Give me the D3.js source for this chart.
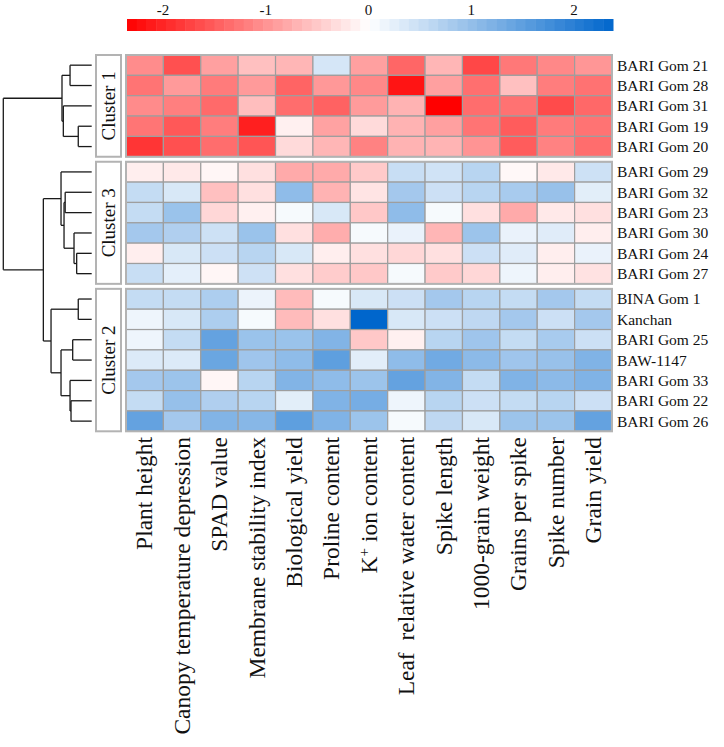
<!DOCTYPE html>
<html>
<head>
<meta charset="utf-8">
<script src="https://cdn.jsdelivr.net/npm/d3@7"></script>
<style>
  body { margin: 0; background: #fff; }
  svg text { font-family: "Liberation Serif", "Times New Roman", serif; fill: #111; }
</style>
</head>
<body>
<div id="chart"></div>
<script>
// traits (columns)
var traits = ["Plant height", "Canopy temperature depression", "SPAD value",
  "Membrane stability index", "Biological yield", "Proline content",
  "K+ ion content", "Leaf  relative water content", "Spike length",
  "1000-grain weight", "Grains per spike", "Spike number", "Grain yield"];

// genotypes (rows, top to bottom) and their cluster
var genotypes = ["BARI Gom 21", "BARI Gom 28", "BARI Gom 31", "BARI Gom 19", "BARI Gom 20",
  "BARI Gom 29", "BARI Gom 32", "BARI Gom 23", "BARI Gom 30", "BARI Gom 24", "BARI Gom 27",
  "BINA Gom 1", "Kanchan", "BARI Gom 25", "BAW-1147", "BARI Gom 33", "BARI Gom 22", "BARI Gom 26"];
var clusterNames = ["Cluster 1", "Cluster 3", "Cluster 2"];
var clusterOf = [0,0,0,0,0, 1,1,1,1,1,1, 2,2,2,2,2,2,2];

// scaled values, one row per genotype
var values = [
  [-1.06,-1.61,-0.88,-0.58,-0.67, 0.39,-0.88,-1.41,-0.67,-1.70,-1.24,-1.10,-0.97],
  [-1.28,-0.93,-1.22,-0.93,-1.43,-0.95,-1.10,-2.17,-0.88,-1.33,-0.58,-1.20,-1.30],
  [-1.07,-1.18,-1.37,-0.60,-1.35,-1.45,-0.92,-0.70,-2.35,-1.35,-1.30,-1.66,-1.39],
  [-1.27,-1.54,-1.20,-2.06,-0.14,-0.86,-0.34,-0.70,-0.88,-1.28,-1.50,-1.22,-1.29],
  [-1.86,-1.61,-1.35,-1.57,-0.34,-0.67,-1.15,-0.70,-0.69,-0.99,-1.50,-1.15,-1.35],
  [-0.16,-0.20,-0.08,-0.29,-0.78,-0.78,-0.49, 0.51, 0.44, 0.66,-0.06,-0.20, 0.47],
  [ 0.55, 0.36,-0.58,-0.29, 1.05,-0.70,-0.25, 0.85, 0.48, 0.66, 0.81, 0.96, 0.27],
  [ 0.55, 0.94,-0.37,-0.14, 0.08, 0.36,-0.51, 1.05, 0.08,-0.29,-0.78,-0.20,-0.29],
  [ 0.85, 0.74, 0.47, 0.94,-0.29,-0.76, 0.08, 0.20,-0.67, 0.92, 0.20, 0.29,-0.16],
  [-0.16, 0.36, 0.48, 0.66, 0.36,-0.16,-0.29,-0.37,-0.29, 0.48, 0.29,-0.16, 0.20],
  [ 0.51, 0.25,-0.08, 0.46,-0.29,-0.47,-0.51, 0.08,-0.49,-0.37, 0.16,-0.16,-0.27],
  [ 0.55, 0.55, 0.77, 0.18,-0.63, 0.08, 0.36, 0.48, 0.85, 0.66, 0.55, 0.85, 0.55],
  [ 0.16, 0.36, 0.77, 0.08,-0.63,-0.29, 2.38, 0.36, 0.48, 0.60, 0.85, 0.48, 0.85],
  [ 0.16, 0.55, 1.45, 0.94, 0.94, 1.17,-0.51,-0.14, 0.66, 0.90, 0.55, 0.81, 0.48],
  [ 0.33, 0.33, 1.39, 0.90, 1.05, 1.50, 0.27, 1.05, 1.33, 1.07, 0.90, 0.96, 1.19],
  [ 0.85, 0.92,-0.08, 0.66, 1.17, 1.05, 0.92, 1.45, 1.17, 0.55, 1.19, 1.07, 1.19],
  [ 0.55, 0.98, 0.74, 0.66, 0.27, 1.19, 1.28, 0.16, 0.66, 0.48, 0.55, 0.66, 0.48],
  [ 1.45, 0.85, 1.17, 1.12, 1.50, 1.19, 0.92, 0.08, 0.60, 0.36, 0.92, 0.92, 1.45]
];

// legend
var legendMin = -2.35, legendMax = 2.38;
var legendTicks = [-2, -1, 0, 1, 2];
var legendSteps = 50;

// row dendrogram (merge heights)
var tree = {h: 10, children: [
  {h: 3.36, children: [
    {h: 2.45, children: [{name: "BARI Gom 21"}, {name: "BARI Gom 28"}]},
    {h: 3.21, children: [{name: "BARI Gom 31"},
      {h: 1.52, children: [{name: "BARI Gom 19"}, {name: "BARI Gom 20"}]}]}
  ]},
  {h: 5.47, children: [
    {h: 3.47, children: [{name: "BARI Gom 29"},
      {h: 3.13, children: [
        {h: 3.0, children: [{name: "BARI Gom 32"}, {name: "BARI Gom 23"}]},
        {h: 2.0, children: [{name: "BARI Gom 30"},
          {h: 1.7, children: [{name: "BARI Gom 24"}, {name: "BARI Gom 27"}]}]}
      ]}
    ]},
    {h: 4.6, children: [
      {h: 1.52, children: [{name: "BINA Gom 1"}, {name: "Kanchan"}]},
      {h: 3.47, children: [
        {h: 2.15, children: [{name: "BARI Gom 25"}, {name: "BAW-1147"}]},
        {h: 2.45, children: [{name: "BARI Gom 33"},
          {h: 2.34, children: [{name: "BARI Gom 22"}, {name: "BARI Gom 26"}]}]}
      ]}
    ]}
  ]}
]};

var width = 724, height = 747;
var hmLeft = 126, hmRight = 612, hmTop = 55;
var rowH = 20.35, gap = 5;

var svg = d3.select("#chart").append("svg")
    .attr("width", width)
    .attr("height", height);

var color = d3.scaleLinear()
    .domain([legendMin, 0, legendMax])
    .range(["#ff0000", "#ffffff", "#0066cc"]);

var x = d3.scaleBand().domain(traits).range([hmLeft, hmRight]);

function rowTop(i) {
  return hmTop + i * rowH + clusterOf[i] * gap;
}
function rowMid(name) {
  var i = genotypes.indexOf(name);
  return rowTop(i) + rowH / 2;
}

// cells
var rows = svg.append("g").selectAll("g")
    .data(values)
    .join("g");

rows.selectAll("rect")
    .data(function(d, i) { return d.map(function(v, j) { return {v: v, i: i, j: j}; }); })
    .join("rect")
    .attr("x", function(d) { return x(traits[d.j]); })
    .attr("y", function(d) { return rowTop(d.i); })
    .attr("width", x.bandwidth())
    .attr("height", rowH)
    .attr("fill", function(d) { return color(d.v); })
    .attr("stroke", "#9e9e9e")
    .attr("stroke-width", 1.2);

// cluster blocks + labels
clusterNames.forEach(function(name, c) {
  var idx = d3.range(genotypes.length).filter(function(i) { return clusterOf[i] === c; });
  var y0 = rowTop(idx[0]), y1 = rowTop(idx[idx.length - 1]) + rowH;
  svg.append("rect")
      .attr("x", hmLeft).attr("y", y0)
      .attr("width", hmRight - hmLeft).attr("height", y1 - y0)
      .attr("fill", "none")
      .attr("stroke", "#b3b3b3")
      .attr("stroke-width", 2);
  svg.append("rect")
      .attr("x", 96).attr("y", y0)
      .attr("width", 25).attr("height", y1 - y0)
      .attr("fill", "#fff")
      .attr("stroke", "#b3b3b3")
      .attr("stroke-width", 2);
  svg.append("text")
      .attr("transform", "translate(108.5," + ((y0 + y1) / 2) + ") rotate(-90)")
      .attr("text-anchor", "middle")
      .attr("dy", "0.35em")
      .style("font-size", "19px")
      .text(name);
});

// row labels
svg.append("g").selectAll("text")
    .data(genotypes)
    .join("text")
    .attr("x", 617)
    .attr("y", function(d) { return rowMid(d); })
    .attr("dy", "0.35em")
    .style("font-size", "15.5px")
    .text(function(d) { return d; });

// column labels
var colLab = svg.append("g").selectAll("text")
    .data(traits)
    .join("text")
    .attr("transform", function(d) {
      return "translate(" + (x(d) + x.bandwidth() / 2) + ",437) rotate(-90)";
    })
    .attr("text-anchor", "end")
    .attr("dy", "0.33em")
    .style("font-size", "23.5px")
    .style("white-space", "pre");

colLab.each(function(d) {
  var t = d3.select(this);
  if (d.indexOf("K+") === 0) {
    t.append("tspan").text("K");
    t.append("tspan").attr("baseline-shift", "super").style("font-size", "15px").text("+");
    t.append("tspan").text(d.slice(2));
  } else {
    t.text(d);
  }
});

// dendrogram
var root = d3.hierarchy(tree);
var xh = d3.scaleLinear().domain([0, 10]).range([91.7, 3.3]);
root.eachAfter(function(n) {
  if (n.children) {
    n.px = xh(n.data.h);
    n.py = (n.children[0].py + n.children[n.children.length - 1].py) / 2;
  } else {
    n.px = xh(0);
    n.py = rowMid(n.data.name);
  }
});
var dend = svg.append("g")
    .attr("fill", "none")
    .attr("stroke", "#1a1a1a")
    .attr("stroke-width", 1.3);
root.descendants().filter(function(n) { return n.children; }).forEach(function(n) {
  var ys = n.children.map(function(c) { return c.py; });
  dend.append("line")
      .attr("x1", n.px).attr("x2", n.px)
      .attr("y1", d3.min(ys)).attr("y2", d3.max(ys));
  n.children.forEach(function(c) {
    dend.append("line")
        .attr("x1", n.px).attr("x2", c.px)
        .attr("y1", c.py).attr("y2", c.py);
  });
});

// legend
var lx = d3.scaleLinear().domain([legendMin, legendMax]).range([127, 613]);
var step = (legendMax - legendMin) / legendSteps;
svg.append("g").selectAll("rect")
    .data(d3.range(legendSteps))
    .join("rect")
    .attr("x", function(k) { return lx(legendMin + k * step); })
    .attr("y", 19)
    .attr("width", function(k) { return lx(legendMin + (k + 1) * step) - lx(legendMin + k * step) + 0.5; })
    .attr("height", 12)
    .attr("fill", function(k) { return color(legendMin + (k + 0.5) * step); });

svg.append("g").selectAll("text")
    .data(legendTicks)
    .join("text")
    .attr("x", function(d) { return lx(d); })
    .attr("y", 15)
    .attr("text-anchor", "middle")
    .style("font-size", "15px")
    .text(function(d) { return d; });
</script>
</body>
</html>
